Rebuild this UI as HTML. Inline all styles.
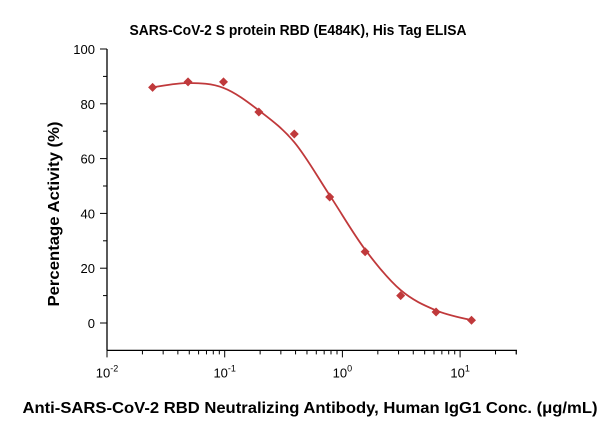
<!DOCTYPE html>
<html><head><meta charset="utf-8"><style>
html,body{margin:0;padding:0;background:#fff;}
svg{display:block;font-family:"Liberation Sans",sans-serif;}
</style></head><body>
<svg id="chart" width="600" height="421" viewBox="0 0 600 421">
<text x="298" y="35" text-anchor="middle" font-weight="bold" font-size="15" textLength="337" lengthAdjust="spacingAndGlyphs">SARS-CoV-2 S protein RBD (E484K), His Tag ELISA</text>
<text x="310" y="413" text-anchor="middle" font-weight="bold" font-size="16" textLength="575" lengthAdjust="spacingAndGlyphs">Anti-SARS-CoV-2 RBD Neutralizing Antibody, Human IgG1 Conc. (μg/mL)</text>
<text transform="translate(59,214) rotate(-90)" text-anchor="middle" font-weight="bold" font-size="16" textLength="185" lengthAdjust="spacingAndGlyphs">Percentage Activity (%)</text>
<g id="axes"></g>
<g id="marks"></g>
</svg>
<script>
const xValues=[0.0244,0.0488,0.0977,0.195,0.39,0.78,1.56,3.125,6.25,12.5];
const yValues=[86,88,88,77,69,46,26,10,4,1];
const yTicks=[0,20,40,60,80,100];
const xDecades=[-2,-1,0,1];

const X0=107,PXD=117.7,Y100=49,PXU=2.74;
function xs(v){return X0+(Math.log10(v)+2)*PXD;}
function ys(v){return Y100+(100-v)*PXU;}
const NS="http://www.w3.org/2000/svg";
const axes=document.getElementById('axes'),marks=document.getElementById('marks');
function mk(tag,at,parent){const e=document.createElementNS(NS,tag);for(const k in at)e.setAttribute(k,at[k]);parent.appendChild(e);return e;}

const xa=mk('line',{x1:X0,y1:ys(-10),x2:517,y2:ys(-10),stroke:'#000','stroke-width':1.3},axes);


const ya=mk('line',{x1:X0,y1:ys(-10),x2:X0,y2:ys(100),stroke:'#000','stroke-width':1.3},axes);



for(let v=0;v<=100;v+=10){
  const major=yTicks.includes(v);
  mk('line',{x1:X0-(major?7:4),x2:X0,y1:ys(v),y2:ys(v),stroke:'#000','stroke-width':1},axes);
}
yTicks.forEach(v=>{
  const t=mk('text',{x:X0-12,y:ys(v)+5,'text-anchor':'end','font-size':13},axes);
  t.textContent=v;
  
  
});
for(let d=-2;d<=1;d++){
  for(let m=1;m<=9;m++){
    const v=m*Math.pow(10,d);const x=xs(v);if(x>517.5)break;
    mk('line',{x1:x,x2:x,y1:ys(-10),y2:ys(-10)+(m==1?7:4),stroke:'#000','stroke-width':1},axes);
  }
}
mk('line',{x1:xs(30),x2:xs(30),y1:ys(-10),y2:ys(-10)+4,stroke:'#000','stroke-width':1},axes);
xDecades.forEach(d=>{
  const t=mk('text',{x:xs(Math.pow(10,d)),y:ys(-10)+27,'text-anchor':'middle','font-size':13},axes);
  t.innerHTML='10<tspan dy="-6" font-size="9">'+d+'</tspan>';
  
  
});

// smoothed fit curve: light smoothing of data, then Catmull-Rom
const sm=yValues.map((v,i)=>{
  if(i==0||i==yValues.length-1)return v;
  return 0.2*yValues[i-1]+0.6*v+0.2*yValues[i+1];
});
const P=xValues.map((v,i)=>[xs(v),ys(sm[i])]);
let d='M'+P[0][0]+','+P[0][1];
for(let i=0;i<P.length-1;i++){
  const p0=P[Math.max(i-1,0)],p1=P[i],p2=P[i+1],p3=P[Math.min(i+2,P.length-1)];
  const c1=[p1[0]+(p2[0]-p0[0])/6,p1[1]+(p2[1]-p0[1])/6];
  const c2=[p2[0]-(p3[0]-p1[0])/6,p2[1]-(p3[1]-p1[1])/6];
  d+=' C'+c1+' '+c2+' '+p2;
}
const curve=mk('path',{d:d,fill:'none',stroke:'#c0393b','stroke-width':1.8},marks);


xValues.forEach((v,i)=>{
  const x=xs(v),y=ys(yValues[i]),s=4.5;
  const m=mk('polygon',{points:`${x},${y-s} ${x+s},${y} ${x},${y+s} ${x-s},${y}`,fill:'#c0393b'},marks);
  
  
});
</script>
</body></html>
